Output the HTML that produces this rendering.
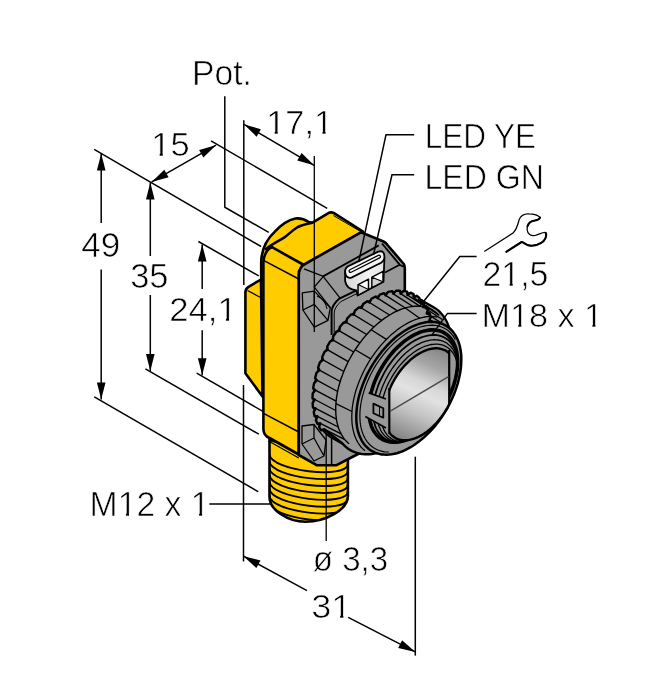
<!DOCTYPE html>
<html><head><meta charset="utf-8"><style>
html,body{margin:0;padding:0;background:#fff;}
svg{display:block;will-change:transform;}
text{font-family:"Liberation Sans",sans-serif;fill:#000;}
</style></head><body>
<svg width="654" height="700" viewBox="0 0 654 700">
<rect width="654" height="700" fill="#fff"/>
<g fill="#000" stroke="#000" stroke-width="1.5" stroke-linejoin="miter">
<g fill="none">
<polyline points="101.2,153.4 101.2,223"/>
<polyline points="101.2,269.5 101.2,399.6"/>
<polyline points="150.3,182.5 150.3,256"/>
<polyline points="150.3,295 150.3,371"/>
<polyline points="202.2,244.5 202.2,289"/>
<polyline points="202.2,330.3 202.2,375.3"/>
<polyline points="94.2,149.4 261.1,246.5"/>
<polyline points="198.4,241.5 258.8,275.9"/>
<polyline points="94.3,396.8 258.2,491.7"/>
<polyline points="145.4,368.9 258.8,434.2"/>
<polyline points="196.7,373.2 290,427"/>
<polyline points="151.7,181.9 216,145.2"/>
<polyline points="211,140.9 327.2,208.3"/>
<polyline points="224.8,96.3 224.8,207.2 268.7,232.4"/>
<polyline points="243.8,120.2 243.8,285"/>
<polyline points="243.5,385 243.5,561.5"/>
<polyline points="244.1,124.4 314.1,165.3"/>
<polyline points="243.5,556.2 307,590.6"/>
<polyline points="348.2,617.4 415.3,651.9"/>
<polyline points="415.3,456.7 415.3,655.6"/>
<polyline points="209.3,503.9 272,503.9"/>
</g>
<g stroke="none">
<polygon points="101.2,153.4 105.5,170.4 96.9,170.4"/>
<polygon points="101.2,399.6 96.9,382.6 105.5,382.6"/>
<polygon points="150.3,182.5 154.6,199.5 146.0,199.5"/>
<polygon points="150.3,371.0 146.0,354.0 154.6,354.0"/>
<polygon points="202.2,244.5 206.5,261.5 197.9,261.5"/>
<polygon points="202.2,375.3 197.9,358.3 206.5,358.3"/>
<polygon points="151.7,181.9 164.3,169.7 168.6,177.2"/>
<polygon points="216.0,145.2 203.4,157.4 199.1,149.9"/>
<polygon points="244.1,124.4 260.9,129.3 256.6,136.7"/>
<polygon points="314.1,165.3 297.3,160.4 301.6,153.0"/>
<polygon points="243.5,556.2 260.5,560.5 256.4,568.1"/>
<polygon points="415.3,651.9 398.2,648.0 402.1,640.3"/>
</g>
</g>
<path d="M269.5,440 L269.5,497 C269.5,510 288,521.8 305.5,521.8 C325,521.8 347.9,510 347.9,496 L347.9,460 Z" fill="#FFCC00" stroke="#000" stroke-width="2.6"/>
<defs><clipPath id="cc"><path d="M269.5,440 L269.5,497 C269.5,510 288,521.8 305.5,521.8 C325,521.8 347.9,510 347.9,496 L347.9,460 Z"/></clipPath></defs><g clip-path="url(#cc)">
<path d="M269.5,454.1 C269.5,470.6 347.9,480.1 347.9,463.6" fill="none" stroke="#000" stroke-width="1.9"/>
<path d="M269.5,461.0 C269.5,477.5 347.9,487.0 347.9,470.5" fill="none" stroke="#000" stroke-width="1.9"/>
<path d="M269.5,467.9 C269.5,484.4 347.9,493.9 347.9,477.4" fill="none" stroke="#000" stroke-width="1.9"/>
<path d="M269.5,474.8 C269.5,491.3 347.9,500.8 347.9,484.3" fill="none" stroke="#000" stroke-width="1.9"/>
<path d="M269.5,481.7 C269.5,498.2 347.9,507.7 347.9,491.2" fill="none" stroke="#000" stroke-width="1.9"/>
<path d="M269.5,488.6 C269.5,505.1 347.9,514.6 347.9,498.1" fill="none" stroke="#000" stroke-width="1.9"/>
<path d="M269.5,495.5 C269.5,512.0 347.9,521.5 347.9,505.0" fill="none" stroke="#000" stroke-width="1.9"/>
<path d="M269.5,502.4 C269.5,518.9 347.9,528.4 347.9,511.9" fill="none" stroke="#000" stroke-width="1.9"/>
<path d="M269.5,509.3 C269.5,525.8 347.9,535.3 347.9,518.8" fill="none" stroke="#000" stroke-width="1.9"/>
</g>
<path d="M245.4,373.3 L245.4,292 Q245.6,288.5 248.5,286.8 L261,279.5 L262.5,396.5 Z" fill="#FFCC00" stroke="#000" stroke-width="2.6" stroke-linejoin="round"/>
<path d="M247.5,290.5 L260.5,297.5" fill="none" stroke="#000" stroke-width="1.3"/>
<path d="M261.2,285 L261.2,262 C261.5,250 266,240 274.6,231.9 C280,226 288,220 295.4,218.5 C300,218 305,219.5 308.8,222.1 L313,222.7 L300,240 L266,262 Z" fill="#FFCC00" stroke="#000" stroke-width="2.6" stroke-linejoin="round"/>
<path d="M266,249 C270,245.5 275,243 284.4,237.4 C288,235 292,230.5 297.8,227 C301,225.3 305,224.2 312.5,222.7 L328.4,213.2 Q331,211.6 334,213.2 L363,231.5 L303.9,265 Z" fill="#FFCC00" stroke="#000" stroke-width="2.6" stroke-linejoin="round"/>
<path d="M333.5,215.6 L361.5,232" fill="none" stroke="#000" stroke-width="1"/>
<path d="M263.4,429 L263.4,262 Q264.5,250 272,247.2 L303.9,265 L299,271 L298.8,454.5 L269.5,438 Q263.4,435.5 263.4,429 Z" fill="#FFCC00" stroke="#000" stroke-width="2.6" stroke-linejoin="round"/>
<path d="M264,260.7 L298.8,279" fill="none" stroke="#000" stroke-width="1.5"/>
<path d="M264,413.7 L298.8,432" fill="none" stroke="#000" stroke-width="1.5"/>
<path d="M268.5,441 L298.8,458" fill="none" stroke="#000" stroke-width="1.3"/>
<path d="M298.8,455 L298.8,275 Q299,267 305,264 L361,232.3 L383.5,241.5 Q386,242.8 387.5,245 L403.8,264 Q404.8,265.5 404.8,268 L404.8,300 L380,440 L360,453 L336.5,465.2 L316.6,465.2 Z" fill="#999999" stroke="#000" stroke-width="2.6" stroke-linejoin="round"/>
<path d="M323.1,276.4 L378.8,245.4 M382,243.5 L399.7,264.7 L404,267 M385,272.5 L399.7,264.7" fill="none" stroke="#000" stroke-width="1.8"/>
<path d="M323.1,276.4 L340.3,298.4" fill="none" stroke="#000" stroke-width="1.3"/>
<path d="M302.3,292.9 L314.3,291.1 L330.3,307.7 L328,320.3 L314.3,327.1 L302.9,310 Z M302.9,310 L314.3,304.3 L328,320.3 M314.3,291.1 L314.3,304.3" fill="none" stroke="#000" stroke-width="1.3" stroke-linejoin="round"/>
<path d="M317,296 C322,298 326,303 327,309" fill="none" stroke="#000" stroke-width="1.1"/>
<path d="M304,268.9 L323.4,276.3 M323.4,276.3 L314.3,287.1 L330.3,307.7" fill="none" stroke="#000" stroke-width="1.3"/>
<path d="M302,426 L314,424.5 L326,440 L324,456 L314,461 L302,444 Z M302,444 L314,438 L324,456 M314,424.5 L314,438" fill="none" stroke="#000" stroke-width="1.3" stroke-linejoin="round"/>
<path d="M331.6,335 L331.6,312 Q331.8,305 339.4,298.6 L356,290.6" fill="none" stroke="#000" stroke-width="2"/>
<path d="M334.2,335 L334.2,313 Q334.5,307 341,301.5 L357,293.5" fill="none" stroke="#000" stroke-width="1"/>
<path d="M331.6,434 L331.6,464" fill="none" stroke="#000" stroke-width="1.5"/>
<defs><linearGradient id="lw" x1="0" y1="0" x2="1" y2="0"><stop offset="0" stop-color="#d8d8d8"/><stop offset="0.6" stop-color="#f2f2f2"/><stop offset="1" stop-color="#e4e4e4"/></linearGradient></defs>
<path d="M345.1,271.3 L345.1,281 Q346.5,289.5 356.5,290.5 L357.5,295.5 L383.5,281.8 L384.4,258 Z" fill="url(#lw)" stroke="#000" stroke-width="1.8" stroke-linejoin="round"/>
<path d="M345.1,271.3 Q345.2,266.5 351,264.8 L378.3,251.6 Q384.6,249.8 384.4,257.5 Q384.3,261.5 379,263.8 L351.5,277.6 Q345.3,279 345.1,271.3 Z" fill="#f4f4f4" stroke="#000" stroke-width="1.8"/>
<path d="M350.5,271 L379,256.6" fill="none" stroke="#000" stroke-width="4" stroke-linecap="round"/>
<path d="M350.5,271 L379,256.6" fill="none" stroke="#fff" stroke-width="1.6" stroke-linecap="round"/>
<path d="M358.2,284.6 L368.5,279.2 L368.5,289.6 L358.2,295 Z M372,277.2 L383,271.4 L383,281.8 L372,287.6 Z" fill="#fff" stroke="#000" stroke-width="1.5" stroke-linejoin="round"/>
<path d="M358.2,284.6 L368.5,289.6 L358.2,295 Z M372,277.2 L383,281.8 L372,287.6 Z" fill="#d0d0d0" stroke="#000" stroke-width="1.1" stroke-linejoin="round"/>
<path d="M331.7,437.6 329.5,436.3 327.5,434.7 325.5,433.0 323.7,431.0 322.0,428.9 320.4,426.6 319.0,424.2 317.8,421.6 316.7,418.8 315.8,415.9 315.0,412.8 314.4,409.6 314.0,406.3 313.7,402.8 313.6,399.3 313.7,395.7 313.9,392.0 314.3,388.2 314.9,384.4 315.6,380.5 316.5,376.6 317.5,372.6 318.7,368.6 320.1,364.6 321.6,360.7 323.3,356.7 325.0,352.8 327.0,348.9 329.0,345.1 331.2,341.3 333.5,337.6 335.9,334.0 338.4,330.4 341.0,327.0 343.7,323.7 346.5,320.5 349.4,317.4 352.3,314.5 355.3,311.8 358.3,309.1 361.4,306.7 364.5,304.4 367.6,302.3 370.8,300.4 373.9,298.6 377.0,297.1 380.2,295.7 383.3,294.6 386.4,293.7 389.4,292.9 392.4,292.4 395.3,292.1 398.2,292.0 401.0,292.1 403.7,292.4 406.4,292.9 408.9,293.7 411.3,294.6 413.7,295.8 433.6,307.3 435.8,308.6 437.9,310.2 439.8,311.9 441.6,313.9 443.3,316.0 444.9,318.3 446.3,320.7 447.5,323.3 448.6,326.1 449.5,329.0 450.3,332.1 450.9,335.3 451.3,338.6 451.6,342.1 451.7,345.6 451.6,349.2 451.4,352.9 451.0,356.7 450.4,360.5 449.7,364.4 448.8,368.3 447.8,372.3 446.6,376.3 445.2,380.3 443.7,384.2 442.1,388.2 440.3,392.1 438.3,396.0 436.3,399.8 434.1,403.6 431.8,407.3 429.4,410.9 426.9,414.5 424.3,417.9 421.6,421.2 418.8,424.4 415.9,427.5 413.0,430.4 410.0,433.1 407.0,435.8 403.9,438.2 400.8,440.5 397.7,442.6 394.6,444.5 391.4,446.3 388.3,447.8 385.1,449.2 382.0,450.3 379.0,451.2 375.9,452.0 372.9,452.5 370.0,452.8 367.1,452.9 364.3,452.8 361.6,452.5 359.0,452.0 356.4,451.2 354.0,450.3 351.7,449.1 Z" fill="#999999" stroke="#000" stroke-width="2.2"/>
<path d="M324.2,429.2 321.2,430.3 319.1,427.2 320.3,423.3 317.4,423.8 315.9,420.2 317.4,416.3 314.6,416.3 313.7,412.1 315.6,408.3 313.0,407.7 312.6,403.2 314.8,399.5 312.5,398.4 312.7,393.5 315.3,390.1 313.2,388.5 314.0,383.4 316.8,380.2 315.1,378.1 316.5,372.9 319.4,370.1 318.1,367.6 320.0,362.2 323.0,359.9 322.2,357.0 324.6,351.7 327.7,349.8 327.2,346.6 330.1,341.5 333.1,340.1 333.1,336.5 336.4,331.7 339.4,330.8 339.8,327.1 343.4,322.7 346.3,322.3 347.2,318.5 351.0,314.5 353.7,314.6 355.0,310.7 359.0,307.3 361.5,308.0 363.2,304.1 367.3,301.2 369.5,302.5 371.5,298.7 375.7,296.5 377.6,298.2 379.9,294.6 384.1,293.1 385.6,295.3 388.1,291.9 392.2,291.1 393.3,293.8 396.1,290.7 399.9,290.6 400.6,293.7 403.6,290.9 407.1,291.6 407.4,295.0 410.5,292.7 413.6,294.1 413.5,297.7 416.6,295.8 419.4,297.9 418.8,301.7 421.9,300.4 424.2,303.1 423.2,307.0 426.3,306.2 428.0,309.6 426.7,313.5 429.5,313.2 430.8,317.1 429.1,321.0 431.7,321.3 432.4,325.7 430.3,329.4 432.8,330.2 432.9,335.0 430.5,338.5 452.7,348.9 452.5,351.9 452.2,355.0 451.8,358.1 451.3,361.2 450.7,364.4 450.0,367.6 449.2,370.8 448.2,374.1 447.2,377.3 446.1,380.5 444.9,383.8 443.6,387.0 442.1,390.2 440.6,393.4 439.1,396.6 437.4,399.7 435.6,402.8 433.8,405.8 431.9,408.8 429.9,411.8 427.9,414.6 425.8,417.4 423.6,420.2 421.4,422.8 419.1,425.4 416.8,427.9 414.4,430.3 412.0,432.6 409.6,434.9 407.1,437.0 404.6,439.0 402.1,440.9 399.5,442.7 397.0,444.3 394.4,445.9 391.8,447.3 389.3,448.6 386.7,449.7 384.2,450.8 381.7,451.7 379.1,452.5 376.7,453.1 374.2,453.6 371.8,454.0 369.4,454.2 367.1,454.3 364.8,454.2 362.5,454.1 360.3,453.7 358.2,453.3 356.1,452.7 354.1,451.9 352.2,451.1 350.3,450.1 348.5,448.9 346.8,447.7 345.2,446.3 343.7,444.8 342.2,443.2 Z" fill="#999999" stroke="#000" stroke-width="2.4" stroke-linejoin="round"/>
<path d="M324.2,429.2 L344.9,439.7 M320.3,423.3 L341.1,433.9 M317.4,416.3 L338.2,427.0 M315.6,408.3 L336.4,419.1 M314.8,399.5 L335.7,410.5 M315.3,390.1 L336.1,401.2 M316.8,380.2 L337.6,391.5 M319.4,370.1 L340.2,381.5 M323.0,359.9 L343.8,371.5 M327.7,349.8 L348.3,361.6 M333.1,340.1 L353.7,352.0 M339.4,330.8 L359.9,342.9 M346.3,322.3 L366.7,334.5 M353.7,314.6 L374.0,327.0 M361.5,308.0 L381.6,320.4 M369.5,302.5 L389.5,315.0 M377.6,298.2 L397.5,310.8 M385.6,295.3 L405.3,308.0 M393.3,293.8 L412.9,306.5 M400.6,293.7 L420.1,306.3 M407.4,295.0 L426.8,307.6 M413.5,297.7 L432.8,310.3 M418.8,301.7 L438.0,314.3 M423.2,307.0 L442.3,319.5 M426.7,313.5 L445.7,325.9" fill="none" stroke="#000" stroke-width="1.4"/>
<path d="M349.1,443.8 L347.6,442.5 L346.2,441.1 L344.9,439.7 L343.7,438.1 L342.6,436.4 L341.5,434.6 L340.5,432.7 L339.6,430.8 L338.8,428.7 L338.1,426.6 L337.5,424.4 L336.9,422.1 L336.5,419.7 L336.2,417.3 L335.9,414.8 L335.8,412.2 L335.7,409.6 L335.7,406.9 L335.9,404.2 L336.1,401.4 L336.4,398.6 L336.8,395.8 L337.3,392.9 L337.9,390.0 L338.6,387.1 L339.4,384.2 L340.3,381.2 L341.2,378.3 L342.3,375.4 L343.4,372.4 L344.6,369.5 L345.9,366.6 L347.2,363.7 L348.7,360.8 L350.2,358.0 L351.8,355.2 L353.4,352.4 L355.2,349.7 L357.0,347.0 L358.8,344.4 L360.7,341.8 L362.6,339.3 L364.6,336.9 L366.7,334.5 L368.8,332.2 L370.9,330.0 L373.1,327.8 L375.3,325.8 L377.5,323.8 L379.8,321.9 L382.1,320.1 L384.3,318.4 L386.7,316.8 L389.0,315.4 L391.3,314.0 L393.6,312.7 L395.9,311.5 L398.3,310.5 L400.6,309.5 L402.9,308.7 L405.2,308.0 L407.4,307.4 L409.6,306.9 L411.9,306.6 L414.0,306.3 L416.2,306.2 L418.3,306.2 L420.3,306.4 L422.3,306.6 L424.3,307.0 L426.2,307.5 L428.0,308.1 L429.8,308.8 L431.6,309.6 L433.2,310.6 L434.8,311.6 L436.3,312.8 L437.8,314.1 L439.2,315.5" fill="none" stroke="#000" stroke-width="1.4"/>
<path d="M364.9,450.7 L363.6,449.6 L362.4,448.4 L361.2,447.2 L360.2,445.9 L359.1,444.5 L358.2,443.0 L357.3,441.4 L356.4,439.8 L355.7,438.1 L355.0,436.4 L354.3,434.6 L353.8,432.7 L353.3,430.7 L352.9,428.7 L352.5,426.7 L352.2,424.6 L352.0,422.4 L351.9,420.2 L351.8,418.0 L351.8,415.7 L351.9,413.4 L352.0,411.0 L352.2,408.6 L352.5,406.2 L352.9,403.8 L353.3,401.3 L353.8,398.8 L354.4,396.3 L355.0,393.8 L355.7,391.3 L356.5,388.8 L357.4,386.2 L358.3,383.7 L359.2,381.2 L360.3,378.7 L361.4,376.2 L362.5,373.7 L363.7,371.2 L365.0,368.7 L366.3,366.3 L367.7,363.9 L369.1,361.5 L370.6,359.2 L372.1,356.9 L373.7,354.6 L375.3,352.4 L377.0,350.2 L378.7,348.0 L380.4,345.9 L382.2,343.9 L384.0,341.9 L385.8,340.0 L387.6,338.2 L389.5,336.4 L391.4,334.6 L393.4,333.0 L395.3,331.4 L397.3,329.8 L399.2,328.4 L401.2,327.0 L403.2,325.7 L405.2,324.5 L407.2,323.4 L409.2,322.3 L411.2,321.4 L413.2,320.5 L415.2,319.7 L417.2,319.0 L419.1,318.3 L421.1,317.8 L423.0,317.3 L424.9,317.0 L426.8,316.7 L428.7,316.5 L430.5,316.5 L432.3,316.5 L434.1,316.6 L435.8,316.8 L437.5,317.0" fill="none" stroke="#000" stroke-width="1.3"/>
<path d="M335.9,403.6 L352.0,411.5 M355.2,349.7 L370.8,358.9 M371.2,329.7 L386.4,339.4 M405.3,308.0 L419.7,318.2" fill="none" stroke="#000" stroke-width="1.3"/>
<path d="M445.9,325.6 L447.8,326.9 L449.6,328.3 L451.3,329.9 L452.8,331.6 L454.3,333.6 L455.6,335.6 L456.8,337.8 L457.9,340.2 L458.8,342.7 L459.6,345.3 L460.2,348.0 L460.7,350.8 L461.1,353.8 L461.3,356.8 L461.3,360.0 L461.2,363.2 L461.0,366.4 L460.6,369.8 L460.1,373.2 L459.4,376.6 L458.6,380.1 L457.7,383.6 L456.6,387.1 L455.4,390.6 L454.1,394.1 L452.6,397.6 L451.0,401.0 L449.3,404.4 L447.5,407.8 L445.5,411.1 L443.5,414.4 L441.4,417.6 L439.1,420.7 L436.8,423.7 L434.5,426.6 L432.0,429.4 L429.5,432.1 L426.9,434.7 L424.3,437.1 L421.6,439.4 L418.9,441.6 L416.2,443.6 L413.4,445.5 L410.6,447.2 L407.9,448.7 L405.1,450.1 L402.3,451.3 L399.6,452.3 L396.9,453.2 L394.2,453.8 L391.6,454.3 L389.0,454.6 L386.4,454.7 L384.0,454.6 L381.5,454.4 L379.2,453.9 L377.0,453.3 L374.8,452.5 L372.7,451.5 L370.8,450.4 L368.9,449.0 L367.2,447.5 L365.5,445.9 L364.0,444.0 L362.6,442.0 L361.4,439.9 L360.3,437.6 L359.3,435.2 L358.4,432.7 L357.7,430.0 L357.1,427.2 L356.7,424.3 L356.4,421.3 L356.3,418.2 L356.3,415.1 L356.5,411.8 L356.8,408.5 L357.2,405.1 L357.8,401.7 L358.5,398.3 L359.4,394.8 L360.4,391.3 L361.6,387.8 L362.9,384.3 L364.3,380.8 L365.8,377.3 L367.4,373.9 L369.2,370.5 L371.1,367.1 L373.1,363.8 L375.2,360.6 L377.3,357.5 L379.6,354.4 L381.9,351.4 L384.4,348.6 L386.8,345.8 L389.4,343.2 L392.0,340.7 L394.6,338.3 L397.3,336.1 L400.1,334.0 L402.8,332.0 L405.6,330.2 L408.3,328.6 L411.1,327.2 L413.9,325.9 L416.6,324.8 L419.4,323.8 L422.1,323.1 L424.7,322.5 L427.3,322.1 L429.9,321.9 L432.4,321.9 L434.9,322.1 L437.2,322.4 L439.5,323.0 L441.7,323.7 L443.8,324.6 L445.9,325.6 Z" fill="#999999" stroke="#000" stroke-width="2.5"/>
<path d="M388.9,452.0 L386.7,452.0 L384.6,451.8 L382.5,451.4 L380.5,450.9 L378.6,450.3 L376.7,449.5 L374.9,448.6 L373.2,447.5 L371.6,446.3 L370.1,445.0 L368.7,443.5 L367.3,441.9 L366.1,440.2 L365.0,438.3 L364.0,436.4 L363.1,434.3 L362.3,432.1 L361.6,429.8 L361.0,427.4 L360.5,424.9 L360.2,422.4 L360.0,419.7 L359.9,417.0 L359.9,414.2 L360.0,411.3 L360.3,408.4 L360.6,405.5 L361.1,402.5 L361.7,399.5 L362.4,396.4 L363.3,393.4 L364.2,390.3 L365.2,387.2 L366.4,384.1 L367.6,381.1 L369.0,378.0 L370.4,375.0 L372.0,372.0 L373.6,369.0 L375.3,366.1 L377.1,363.3 L379.0,360.5 L381.0,357.8 L383.0,355.1 L385.1,352.5 L387.2,350.0 L389.4,347.6 L391.7,345.3 L393.9,343.1 L396.3,341.0 L398.6,339.1 L401.0,337.2 L403.4,335.5 L405.9,333.8 L408.3,332.3 L410.7,331.0 L413.2,329.8 L415.6,328.7 L418.0,327.8 L420.4,327.0 L422.8,326.3 L425.1,325.8 L427.4,325.5 L429.7,325.3 L431.9,325.2 L434.1,325.3 L436.2,325.5 L438.2,325.9 L440.2,326.5 L442.1,327.2 L443.9,328.0 L445.7,329.0 L447.4,330.1 L448.9,331.3 L450.4,332.7 L451.8,334.3 L453.1,335.9 L454.3,337.7 L455.4,339.6" fill="none" stroke="#000" stroke-width="1.2"/>
<path d="M444.6,333.1 L446.2,334.1 L447.7,335.3 L449.1,336.7 L450.5,338.2 L451.7,339.8 L452.8,341.5 L453.8,343.4 L454.7,345.4 L455.5,347.5 L456.2,349.7 L456.7,352.0 L457.1,354.4 L457.4,356.9 L457.6,359.5 L457.6,362.1 L457.6,364.8 L457.4,367.6 L457.1,370.4 L456.6,373.3 L456.1,376.2 L455.4,379.1 L454.6,382.1 L453.7,385.1 L452.6,388.0 L451.5,391.0 L450.2,393.9 L448.9,396.9 L447.5,399.8 L445.9,402.6 L444.3,405.4 L442.6,408.2 L440.8,410.9 L438.9,413.5 L436.9,416.1 L434.9,418.5 L432.8,420.9 L430.7,423.2 L428.5,425.4 L426.3,427.4 L424.0,429.4 L421.8,431.2 L419.4,432.9 L417.1,434.5 L414.8,435.9 L412.4,437.2 L410.1,438.4 L407.7,439.4 L405.4,440.3 L403.1,441.0 L400.8,441.5 L398.6,442.0 L396.4,442.2 L394.3,442.3 L392.2,442.2 L390.1,442.0 L388.2,441.6 L386.3,441.1 L384.4,440.4 L382.7,439.6 L381.0,438.6 L379.4,437.5 L378.0,436.2 L376.6,434.8 L375.3,433.2 L374.1,431.6 L373.1,429.8 L372.1,427.8 L371.3,425.8 L370.6,423.6 L370.0,421.4 L369.5,419.0 L369.1,416.6 L368.9,414.0 L368.8,411.4 L368.8,408.7 L368.9,406.0 L369.2,403.2 L369.6,400.3 L370.1,397.5 L370.7,394.5 L371.4,391.6 L372.3,388.6 L373.2,385.7 L374.3,382.7 L375.5,379.7 L376.8,376.8 L378.2,373.9 L379.7,371.0 L381.3,368.2 L383.0,365.4 L384.7,362.7 L386.6,360.0 L388.5,357.4 L390.5,354.9 L392.5,352.5 L394.6,350.1 L396.8,347.9 L399.0,345.8 L401.2,343.8 L403.5,341.9 L405.8,340.1 L408.1,338.5 L410.5,337.0 L412.8,335.6 L415.2,334.4 L417.5,333.3 L419.8,332.3 L422.1,331.6 L424.4,330.9 L426.7,330.4 L428.9,330.1 L431.1,329.9 L433.2,329.9 L435.3,330.1 L437.3,330.4 L439.2,330.8 L441.1,331.4 L442.9,332.2 L444.6,333.1 Z" fill="#999999" stroke="#000" stroke-width="3.6"/>
<defs><clipPath id="rc"><path d="M444.6,333.1 L446.2,334.1 L447.7,335.3 L449.1,336.7 L450.5,338.2 L451.7,339.8 L452.8,341.5 L453.8,343.4 L454.7,345.4 L455.5,347.5 L456.2,349.7 L456.7,352.0 L457.1,354.4 L457.4,356.9 L457.6,359.5 L457.6,362.1 L457.6,364.8 L457.4,367.6 L457.1,370.4 L456.6,373.3 L456.1,376.2 L455.4,379.1 L454.6,382.1 L453.7,385.1 L452.6,388.0 L451.5,391.0 L450.2,393.9 L448.9,396.9 L447.5,399.8 L445.9,402.6 L444.3,405.4 L442.6,408.2 L440.8,410.9 L438.9,413.5 L436.9,416.1 L434.9,418.5 L432.8,420.9 L430.7,423.2 L428.5,425.4 L426.3,427.4 L424.0,429.4 L421.8,431.2 L419.4,432.9 L417.1,434.5 L414.8,435.9 L412.4,437.2 L410.1,438.4 L407.7,439.4 L405.4,440.3 L403.1,441.0 L400.8,441.5 L398.6,442.0 L396.4,442.2 L394.3,442.3 L392.2,442.2 L390.1,442.0 L388.2,441.6 L386.3,441.1 L384.4,440.4 L382.7,439.6 L381.0,438.6 L379.4,437.5 L378.0,436.2 L376.6,434.8 L375.3,433.2 L374.1,431.6 L373.1,429.8 L372.1,427.8 L371.3,425.8 L370.6,423.6 L370.0,421.4 L369.5,419.0 L369.1,416.6 L368.9,414.0 L368.8,411.4 L368.8,408.7 L368.9,406.0 L369.2,403.2 L369.6,400.3 L370.1,397.5 L370.7,394.5 L371.4,391.6 L372.3,388.6 L373.2,385.7 L374.3,382.7 L375.5,379.7 L376.8,376.8 L378.2,373.9 L379.7,371.0 L381.3,368.2 L383.0,365.4 L384.7,362.7 L386.6,360.0 L388.5,357.4 L390.5,354.9 L392.5,352.5 L394.6,350.1 L396.8,347.9 L399.0,345.8 L401.2,343.8 L403.5,341.9 L405.8,340.1 L408.1,338.5 L410.5,337.0 L412.8,335.6 L415.2,334.4 L417.5,333.3 L419.8,332.3 L422.1,331.6 L424.4,330.9 L426.7,330.4 L428.9,330.1 L431.1,329.9 L433.2,329.9 L435.3,330.1 L437.3,330.4 L439.2,330.8 L441.1,331.4 L442.9,332.2 L444.6,333.1 Z"/></clipPath></defs><g clip-path="url(#rc)">
<path d="M404.5,441.2 L402.3,441.7 L400.1,442.0 L397.9,442.1 L395.8,442.1 L393.8,441.9 L391.8,441.6 L389.9,441.1 L388.1,440.4 L386.3,439.6 L384.6,438.6 L383.1,437.4 L381.6,436.2 L380.3,434.7 L379.0,433.1 L377.9,431.4 L376.8,429.6 L375.9,427.6 L375.1,425.6 L374.5,423.4 L373.9,421.1 L373.5,418.7 L373.2,416.2 L373.1,413.6 L373.0,410.9 L373.1,408.2 L373.4,405.4 L373.7,402.6 L374.2,399.7 L374.8,396.8 L375.5,393.9 L376.4,390.9 L377.4,388.0 L378.4,385.0 L379.6,382.1 L381.0,379.2 L382.4,376.3 L383.9,373.4 L385.5,370.6 L387.2,367.8 L389.0,365.1 L390.9,362.5 L392.8,360.0 L394.8,357.5 L396.9,355.1 L399.0,352.9 L401.2,350.7 L403.4,348.7 L405.7,346.8 L408.0,345.0 L410.3,343.3 L412.6,341.8 L415.0,340.4 L417.3,339.2 L419.6,338.1 L422.0,337.2 L424.3,336.5 L426.5,335.8 L428.8,335.4 L431.0,335.1 L433.1,335.0 L435.2,335.0 L437.3,335.2 L439.2,335.6 L441.1,336.1 L442.9,336.8 L444.7,337.7 L446.3,338.7 L447.9,339.8 L449.3,341.1 L450.7,342.6 L451.9,344.2 L453.0,345.9 L454.1,347.7 L455.0,349.7 L455.7,351.8 L456.4,354.0 L456.9,356.3 L457.3,358.8 L457.6,361.3" fill="none" stroke="#000" stroke-width="1.8"/>
<path d="M407.1,441.1 L404.9,441.5 L402.8,441.8 L400.8,442.0 L398.7,441.9 L396.8,441.8 L394.9,441.4 L393.1,440.9 L391.3,440.3 L389.7,439.5 L388.1,438.6 L386.6,437.5 L385.2,436.3 L383.9,434.9 L382.7,433.4 L381.6,431.8 L380.6,430.0 L379.8,428.1 L379.0,426.2 L378.4,424.1 L377.9,421.9 L377.5,419.6 L377.2,417.2 L377.0,414.7 L377.0,412.2 L377.1,409.6 L377.3,407.0 L377.7,404.3 L378.1,401.5 L378.7,398.7 L379.4,395.9 L380.2,393.1 L381.1,390.3 L382.2,387.5 L383.3,384.7 L384.6,381.9 L385.9,379.1 L387.4,376.4 L388.9,373.7 L390.5,371.1 L392.2,368.5 L394.0,366.0 L395.9,363.6 L397.8,361.2 L399.8,359.0 L401.8,356.8 L403.9,354.8 L406.0,352.8 L408.2,351.0 L410.4,349.3 L412.6,347.7 L414.8,346.3 L417.0,344.9 L419.3,343.8 L421.5,342.7 L423.7,341.9 L425.9,341.1 L428.1,340.6 L430.2,340.1 L432.3,339.9 L434.4,339.7 L436.4,339.8 L438.3,340.0 L440.2,340.3 L442.0,340.8 L443.7,341.5 L445.4,342.3 L447.0,343.3 L448.4,344.4 L449.8,345.6 L451.1,347.0 L452.3,348.5 L453.4,350.1 L454.3,351.9 L455.2,353.8 L455.9,355.8 L456.6,357.9 L457.1,360.1 L457.4,362.4 L457.7,364.8" fill="none" stroke="#000" stroke-width="1.3"/>
<path d="M409.4,441.0 L407.4,441.4 L405.4,441.7 L403.4,441.8 L401.5,441.8 L399.6,441.6 L397.8,441.3 L396.1,440.8 L394.4,440.2 L392.8,439.5 L391.3,438.6 L389.9,437.5 L388.5,436.4 L387.3,435.1 L386.2,433.6 L385.1,432.1 L384.2,430.4 L383.4,428.6 L382.6,426.7 L382.0,424.7 L381.5,422.6 L381.1,420.4 L380.9,418.2 L380.7,415.8 L380.7,413.4 L380.8,410.9 L381.0,408.4 L381.3,405.8 L381.8,403.2 L382.3,400.5 L383.0,397.8 L383.8,395.2 L384.7,392.5 L385.6,389.8 L386.7,387.1 L387.9,384.4 L389.2,381.8 L390.6,379.2 L392.1,376.6 L393.6,374.1 L395.3,371.6 L397.0,369.2 L398.7,366.9 L400.6,364.7 L402.5,362.5 L404.4,360.5 L406.4,358.5 L408.4,356.6 L410.5,354.9 L412.6,353.3 L414.7,351.8 L416.8,350.4 L418.9,349.1 L421.1,348.0 L423.2,347.0 L425.3,346.2 L427.4,345.5 L429.5,344.9 L431.5,344.5 L433.5,344.3 L435.5,344.2 L437.4,344.2 L439.3,344.4 L441.1,344.7 L442.8,345.2 L444.5,345.8 L446.0,346.6 L447.5,347.5 L448.9,348.6 L450.3,349.7 L451.5,351.1 L452.6,352.5 L453.7,354.1 L454.6,355.8 L455.4,357.6 L456.1,359.5 L456.7,361.5 L457.2,363.6 L457.6,365.8 L457.8,368.1" fill="none" stroke="#000" stroke-width="1.3"/>
</g>
<path d="M368.2,392.6 L389.3,400 L389.3,430 L365.6,416.6 Q365.5,404 368.2,392.6 Z" fill="#999999" stroke="none"/>
<path d="M373.4,403.6 L383.3,408.3 L383.3,417.7 L373.4,413.3 Z" fill="#999999" stroke="#000" stroke-width="1.8" stroke-linejoin="round"/>
<path d="M368.7,392.8 L386,399 M365.3,416.5 L386,428" fill="none" stroke="#000" stroke-width="1.8"/>
<path d="M379.5,406.5 L379.5,416" fill="none" stroke="#000" stroke-width="1"/>
<defs><linearGradient id="lg" gradientUnits="userSpaceOnUse" x1="441" y1="348.8" x2="400" y2="439.8"><stop offset="0" stop-color="#868686"/><stop offset="0.2" stop-color="#a6a6a6"/><stop offset="0.38" stop-color="#d6d6d6"/><stop offset="0.5" stop-color="#e2e2e2"/><stop offset="0.6" stop-color="#d2d2d2"/><stop offset="0.7" stop-color="#c2c2c2"/><stop offset="0.83" stop-color="#a6a6a6"/><stop offset="1" stop-color="#828282"/></linearGradient><clipPath id="lc"><rect x="389.3" y="300" width="59.9" height="200"/></clipPath></defs>
<g clip-path="url(#lc)"><path d="M446.2,350.9 L447.5,351.8 L448.7,352.8 L449.9,353.9 L451.0,355.1 L452.0,356.4 L452.9,357.8 L453.7,359.4 L454.5,361.0 L455.1,362.7 L455.6,364.5 L456.1,366.4 L456.4,368.4 L456.7,370.4 L456.8,372.5 L456.9,374.7 L456.8,376.9 L456.6,379.2 L456.4,381.5 L456.0,383.8 L455.6,386.2 L455.0,388.6 L454.3,391.0 L453.6,393.4 L452.8,395.9 L451.8,398.3 L450.8,400.7 L449.7,403.1 L448.5,405.5 L447.3,407.8 L445.9,410.1 L444.5,412.4 L443.0,414.6 L441.5,416.7 L439.9,418.8 L438.3,420.8 L436.6,422.8 L434.8,424.6 L433.0,426.4 L431.2,428.1 L429.4,429.7 L427.5,431.2 L425.6,432.6 L423.7,433.9 L421.8,435.1 L419.9,436.1 L417.9,437.1 L416.0,437.9 L414.1,438.6 L412.3,439.2 L410.4,439.7 L408.6,440.0 L406.8,440.2 L405.0,440.3 L403.3,440.2 L401.6,440.0 L400.0,439.7 L398.5,439.3 L397.0,438.8 L395.5,438.1 L394.2,437.3 L392.9,436.3 L391.7,435.3 L390.5,434.1 L389.5,432.9 L388.5,431.5 L387.7,430.0 L386.9,428.4 L386.2,426.8 L385.6,425.0 L385.1,423.2 L384.7,421.2 L384.4,419.2 L384.2,417.2 L384.1,415.0 L384.2,412.8 L384.3,410.6 L384.5,408.3 L384.8,406.0 L385.2,403.6 L385.7,401.2 L386.3,398.8 L387.0,396.4 L387.8,393.9 L388.7,391.5 L389.7,389.1 L390.7,386.7 L391.9,384.3 L393.1,382.0 L394.4,379.6 L395.8,377.4 L397.2,375.1 L398.7,372.9 L400.3,370.8 L401.9,368.8 L403.6,366.8 L405.3,364.9 L407.1,363.1 L408.9,361.3 L410.7,359.7 L412.6,358.1 L414.4,356.7 L416.3,355.3 L418.3,354.1 L420.2,353.0 L422.1,352.0 L424.0,351.1 L425.9,350.3 L427.8,349.7 L429.7,349.1 L431.5,348.8 L433.3,348.5 L435.1,348.3 L436.9,348.3 L438.5,348.4 L440.2,348.7 L441.8,349.1 L443.3,349.6 L444.8,350.2 L446.2,350.9 Z" fill="url(#lg)" stroke="#000" stroke-width="2.4"/></g>
<path d="M389.3,388 L389.3,434 M449.2,350 L449.2,404" fill="none" stroke="#000" stroke-width="2.2"/>
<path d="M389.9,411.3 L448.5,376.6" fill="none" stroke="#4a4a4a" stroke-width="1.4"/>
<path d="M314.3,156 L314.3,332 M326.2,434 L326.2,541" fill="none" stroke="#000" stroke-width="1.3"/>
<g fill="none" stroke="#000" stroke-width="1.5">
<polyline points="414.2,134.7 386,134.7 358.7,262"/>
<polyline points="414.2,174.8 392,174.8 373.4,255"/>
<polyline points="476.6,256.6 459.8,256.6 419.7,306.2"/>
<polyline points="476.6,313.4 447.5,313.4 432.2,334.6"/>
</g>
<path d="M484.3,251.5 L513,233.1 C517,229 518,224 519.1,219.7 C521,215 525,213.5 529,213.8 C534,214 538,215 540,217.2 C540.5,219.5 538,220 535,220.3 C530,221 527,224 527.1,229.5 C527.5,234 531,236.5 535,235.5 C539,234.5 543,232 545.5,232.5 C547,236 545,241 541.2,242.9 C537,245.5 532,246 528.9,245.4 C525,244.5 523,241.5 521.6,241.7 L506.3,251.5" fill="none" stroke="#000" stroke-width="1.25"/><path d="M540,217.6 C539,219.6 537,220.2 535,220.5 C531,221 528.5,223 527.6,226 M545.8,233 C547,236 545,241 541.2,242.9 C537,245.5 532,246 528.9,245.4 C525,244.5 523,241.8 521.6,242 L506.3,251.8" fill="none" stroke="#000" stroke-width="2.1" stroke-linecap="round"/>
<g>
<text transform="translate(191.97,85.00) scale(0.3371,0.3471)" font-size="100" stroke="#fff" stroke-width="1.9">Pot.</text>
<text transform="translate(266.21,133.60) scale(0.3441,0.3412)" font-size="100" stroke="#fff" stroke-width="1.9" mask="url(#m0)">17,1</text>
<text transform="translate(151.20,156.20) scale(0.3453,0.3368)" font-size="100" stroke="#fff" stroke-width="1.9" mask="url(#m1)">15</text>
<text transform="translate(81.25,257.40) scale(0.3510,0.3478)" font-size="100" stroke="#fff" stroke-width="1.9">49</text>
<text transform="translate(130.18,288.00) scale(0.3446,0.3420)" font-size="100" stroke="#fff" stroke-width="1.9">35</text>
<text transform="translate(169.32,321.20) scale(0.3464,0.3362)" font-size="100" stroke="#fff" stroke-width="1.9" mask="url(#m2)">24,1</text>
<text transform="translate(424.67,147.80) scale(0.3150,0.3500)" font-size="100" stroke="#fff" stroke-width="1.9">LED YE</text>
<text transform="translate(424.51,188.80) scale(0.3206,0.3449)" font-size="100" stroke="#fff" stroke-width="1.9">LED GN</text>
<text transform="translate(482.46,286.20) scale(0.3393,0.3420)" font-size="100" stroke="#fff" stroke-width="1.9" mask="url(#m3)">21,5</text>
<text transform="translate(481.42,326.60) scale(0.3420,0.3377)" font-size="100" stroke="#fff" stroke-width="1.9" mask="url(#m4)">M18 x 1</text>
<text transform="translate(89.56,516.20) scale(0.3375,0.3449)" font-size="100" stroke="#fff" stroke-width="1.9" mask="url(#m5)">M12 x 1</text>
<text transform="translate(312.75,571.40) scale(0.3309,0.3449)" font-size="100" stroke="#fff" stroke-width="1.9">ø 3,3</text>
<text transform="translate(311.20,618.20) scale(0.3607,0.3391)" font-size="100" stroke="#fff" stroke-width="1.9" mask="url(#m6)">31</text>
</g>
<defs><mask id="m0" maskUnits="userSpaceOnUse" x="-100" y="-200" width="1200" height="400"><rect x="-100" y="-200" width="1200" height="400" fill="#fff"/><rect x="5.0" y="-9.5" width="19.6" height="13" fill="#000"/><rect x="33.6" y="-9.5" width="20" height="13" fill="#000"/><rect x="143.9" y="-9.5" width="19.6" height="13" fill="#000"/><rect x="172.5" y="-9.5" width="20" height="13" fill="#000"/></mask>
<mask id="m1" maskUnits="userSpaceOnUse" x="-100" y="-200" width="1200" height="400"><rect x="-100" y="-200" width="1200" height="400" fill="#fff"/><rect x="5.0" y="-9.5" width="19.6" height="13" fill="#000"/><rect x="33.6" y="-9.5" width="20" height="13" fill="#000"/></mask>
<mask id="m2" maskUnits="userSpaceOnUse" x="-100" y="-200" width="1200" height="400"><rect x="-100" y="-200" width="1200" height="400" fill="#fff"/><rect x="143.9" y="-9.5" width="19.6" height="13" fill="#000"/><rect x="172.5" y="-9.5" width="20" height="13" fill="#000"/></mask>
<mask id="m3" maskUnits="userSpaceOnUse" x="-100" y="-200" width="1200" height="400"><rect x="-100" y="-200" width="1200" height="400" fill="#fff"/><rect x="60.6" y="-9.5" width="19.6" height="13" fill="#000"/><rect x="89.2" y="-9.5" width="20" height="13" fill="#000"/></mask>
<mask id="m4" maskUnits="userSpaceOnUse" x="-100" y="-200" width="1200" height="400"><rect x="-100" y="-200" width="1200" height="400" fill="#fff"/><rect x="88.2" y="-9.5" width="19.6" height="13" fill="#000"/><rect x="116.8" y="-9.5" width="20" height="13" fill="#000"/><rect x="304.9" y="-9.5" width="19.6" height="13" fill="#000"/><rect x="333.5" y="-9.5" width="20" height="13" fill="#000"/></mask>
<mask id="m5" maskUnits="userSpaceOnUse" x="-100" y="-200" width="1200" height="400"><rect x="-100" y="-200" width="1200" height="400" fill="#fff"/><rect x="88.3" y="-9.5" width="19.6" height="13" fill="#000"/><rect x="116.9" y="-9.5" width="20" height="13" fill="#000"/><rect x="305.0" y="-9.5" width="19.6" height="13" fill="#000"/><rect x="333.6" y="-9.5" width="20" height="13" fill="#000"/></mask>
<mask id="m6" maskUnits="userSpaceOnUse" x="-100" y="-200" width="1200" height="400"><rect x="-100" y="-200" width="1200" height="400" fill="#fff"/><rect x="60.6" y="-9.5" width="19.6" height="13" fill="#000"/><rect x="89.2" y="-9.5" width="20" height="13" fill="#000"/></mask></defs>
</svg>
</body></html>
